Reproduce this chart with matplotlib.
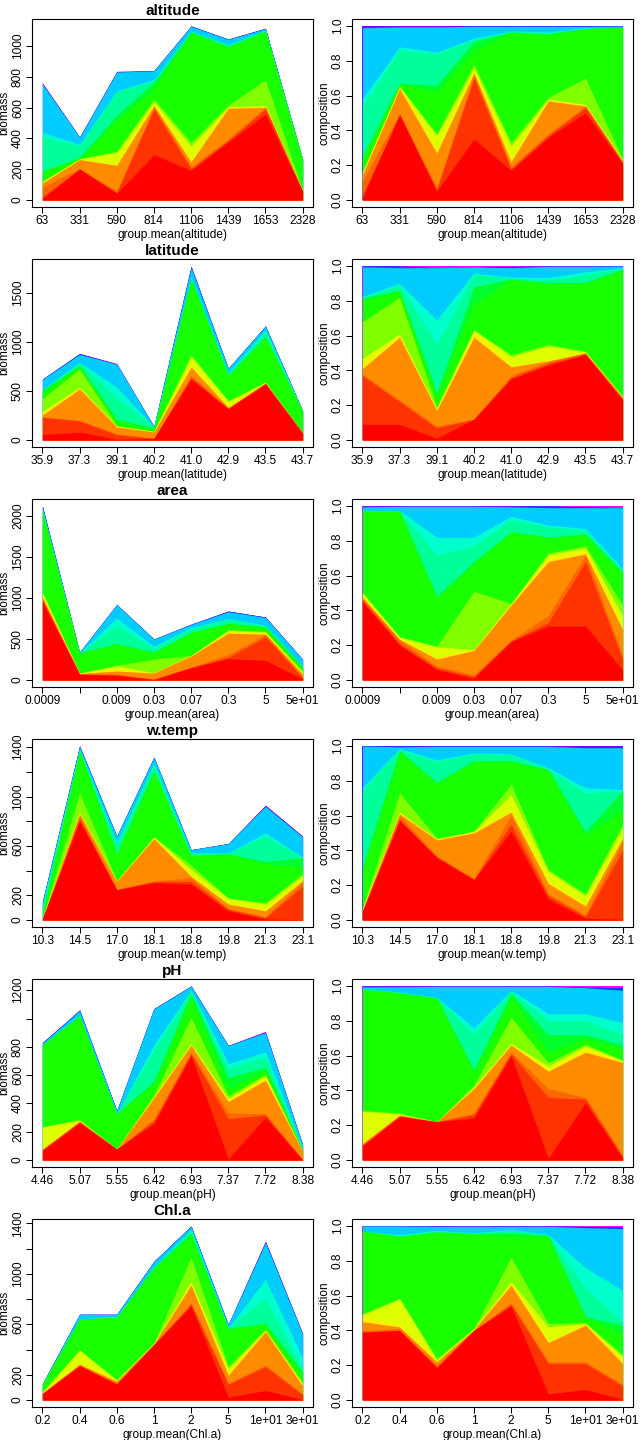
import numpy as np
import matplotlib
matplotlib.use("Agg")
import matplotlib.pyplot as plt

plt.rcParams['font.family'] = ['Liberation Sans', 'DejaVu Sans']

# colour of each stacked layer, bottom to top
layer_colors = ["#FF0000", "#FF3300", "#FF6600", "#FF8C00", "#FFEE00",
                "#DDFF00", "#80FF00", "#1AFF00", "#00FF2A", "#00FF99",
                "#00FFCC", "#00CCFF", "#0040FF", "#8000FF", "#FF00FF"]

# ---- altitude
altitude_labels = ["63", "331", "590", "814", "1106", "1439", "1653", "2328"]
altitude_total = [760, 410, 835, 840, 1130, 1045, 1115, 265]
# top edge of each layer in the composition panel
altitude_cum = [
    [.013, .49, .05, .35, .17, .36, .50, .21],
    [.03, .49, .06, .70, .18, .37, .53, .215],
    [.11, .50, .07, .72, .19, .38, .54, .22],
    [.145, .64, .27, .73, .22, .57, .54, .225],
    [.155, .645, .28, .74, .23, .575, .545, .23],
    [.16, .65, .37, .76, .31, .58, .55, .23],
    [.16, .655, .38, .78, .33, .59, .70, .235],
    [.245, .67, .62, .86, .96, .95, .98, .99],
    [.245, .67, .66, .91, .965, .955, .985, .99],
    [.54, .86, .84, .92, .97, .96, .99, .99],
    [.58, .88, .85, .93, .97, .965, .99, .99],
    [.99, .995, .995, .998, .998, .998, .998, 1.0],
    [.99, .995, .995, 1.0, 1.0, 1.0, 1.0, 1.0],
    [1.0, 1.0, 1.0, 1.0, 1.0, 1.0, 1.0, 1.0],
    [1.0, 1.0, 1.0, 1.0, 1.0, 1.0, 1.0, 1.0],
]
altitude_yticks = [0, 200, 400, 600, 800, 1000]
altitude_yticklabels = ["0", "200", "400", "600", "800", "1000"]

# ---- latitude
latitude_labels = ["35.9", "37.3", "39.1", "40.2", "41.0", "42.9", "43.5", "43.7"]
latitude_total = [620, 880, 780, 140, 1770, 730, 1160, 300]
latitude_cum = [
    [.09, .09, .01, .12, .35, .43, .49, .23],
    [.37, .22, .07, .12, .36, .44, .495, .235],
    [.38, .23, .08, .12, .37, .45, .50, .24],
    [.41, .59, .17, .59, .42, .455, .50, .245],
    [.43, .60, .175, .62, .43, .46, .505, .25],
    [.47, .61, .18, .63, .48, .54, .505, .25],
    [.68, .82, .19, .635, .49, .55, .51, .25],
    [.80, .855, .26, .78, .92, .90, .90, .98],
    [.815, .86, .27, .88, .925, .905, .905, .98],
    [.82, .89, .55, .95, .93, .92, .95, .985],
    [.825, .90, .69, .96, .935, .935, .965, .99],
    [.995, .99, .99, .995, .99, .998, .998, 1.0],
    [1.0, 1.0, .99, .995, .997, 1.0, 1.0, 1.0],
    [1.0, 1.0, .99, .995, .997, 1.0, 1.0, 1.0],
    [1.0, 1.0, 1.0, 1.0, 1.0, 1.0, 1.0, 1.0],
]
latitude_yticks = [0, 500, 1000, 1500]
latitude_yticklabels = ["0", "500", "1000", "1500"]

# ---- area
area_labels = ["0.0009", "", "0.009", "0.03", "0.07", "0.3", "5", "5e+01"]
area_total = [2120, 340, 920, 500, 680, 840, 770, 255]
area_cum = [
    [.45, .20, .06, .01, .22, .31, .31, .06],
    [.46, .21, .07, .02, .225, .33, .68, .12],
    [.47, .23, .08, .03, .23, .37, .72, .14],
    [.475, .235, .12, .17, .43, .68, .725, .29],
    [.49, .24, .13, .175, .435, .70, .74, .30],
    [.50, .245, .19, .175, .44, .72, .76, .37],
    [.505, .25, .195, .51, .44, .73, .77, .43],
    [.97, .97, .48, .67, .85, .82, .83, .61],
    [.97, .97, .48, .68, .85, .82, .84, .62],
    [.975, .97, .72, .77, .92, .88, .86, .63],
    [.975, .975, .82, .82, .94, .89, .87, .64],
    [.995, .998, .998, .998, .995, .99, .99, .99],
    [1.0, 1.0, 1.0, 1.0, 1.0, 1.0, .995, .99],
    [1.0, 1.0, 1.0, 1.0, 1.0, 1.0, .995, .99],
    [1.0, 1.0, 1.0, 1.0, 1.0, 1.0, 1.0, 1.0],
]
area_yticks = [0, 500, 1000, 1500, 2000]
area_yticklabels = ["0", "500", "1000", "1500", "2000"]

# ---- w.temp
wtemp_labels = ["10.3", "14.5", "17.0", "18.1", "18.8", "19.8", "21.3", "23.1"]
wtemp_total = [150, 1410, 680, 1320, 570, 620, 930, 680]
wtemp_cum = [
    [.05, .57, .36, .23, .51, .12, .01, .005],
    [.05, .58, .36, .235, .55, .14, .02, .40],
    [.05, .60, .37, .24, .60, .15, .03, .45],
    [.055, .61, .46, .50, .62, .21, .08, .47],
    [.06, .615, .465, .505, .63, .22, .09, .48],
    [.06, .62, .465, .51, .72, .28, .14, .53],
    [.07, .73, .47, .51, .78, .29, .15, .55],
    [.30, .96, .79, .91, .91, .86, .49, .63],
    [.30, .975, .79, .915, .915, .865, .51, .74],
    [.74, .98, .91, .955, .95, .87, .73, .745],
    [.76, .985, .92, .96, .955, .875, .76, .75],
    [1.0, .995, .998, .998, .998, .998, .99, .99],
    [1.0, 1.0, 1.0, 1.0, 1.0, 1.0, .993, .993],
    [1.0, 1.0, 1.0, 1.0, 1.0, 1.0, 1.0, 1.0],
    [1.0, 1.0, 1.0, 1.0, 1.0, 1.0, 1.0, 1.0],
]
wtemp_yticks = [0, 200, 400, 600, 800, 1000, 1200, 1400]
wtemp_yticklabels = ["0", "200", "", "600", "", "1000", "", "1400"]

# ---- pH
ph_labels = ["4.46", "5.07", "5.55", "6.42", "6.93", "7.37", "7.72", "8.38"]
ph_total = [830, 1060, 350, 1070, 1230, 810, 910, 110]
ph_cum = [
    [.08, .25, .22, .24, .60, .01, .33, .01],
    [.085, .25, .22, .26, .61, .36, .35, .02],
    [.09, .255, .22, .27, .62, .41, .36, .03],
    [.095, .26, .22, .41, .66, .51, .62, .56],
    [.10, .262, .22, .415, .665, .52, .64, .565],
    [.28, .265, .22, .42, .67, .54, .655, .57],
    [.285, .27, .22, .43, .82, .56, .665, .575],
    [.98, .96, .93, .51, .94, .62, .70, .64],
    [.98, .96, .93, .52, .955, .72, .72, .66],
    [.98, .965, .935, .72, .97, .80, .80, .72],
    [.985, .965, .935, .76, .975, .84, .84, .79],
    [.995, .995, .998, .998, .998, .998, .99, .975],
    [1.0, 1.0, 1.0, 1.0, 1.0, 1.0, .993, .99],
    [1.0, 1.0, 1.0, 1.0, 1.0, 1.0, .993, .99],
    [1.0, 1.0, 1.0, 1.0, 1.0, 1.0, 1.0, 1.0],
]
ph_yticks = [0, 200, 400, 600, 800, 1000, 1200]
ph_yticklabels = ["0", "200", "400", "600", "800", "", "1200"]

# ---- Chl.a
chla_labels = ["0.2", "0.4", "0.6", "1", "2", "5", "1e+01", "3e+01"]
chla_total = [130, 680, 680, 1100, 1380, 600, 1260, 530]
chla_cum = [
    [.39, .40, .185, .40, .54, .035, .06, .005],
    [.39, .40, .19, .40, .55, .21, .21, .08],
    [.40, .41, .20, .40, .56, .22, .22, .09],
    [.45, .42, .22, .405, .66, .33, .43, .21],
    [.48, .43, .225, .41, .67, .34, .435, .23],
    [.49, .58, .23, .41, .68, .42, .44, .25],
    [.495, .585, .24, .41, .82, .44, .445, .26],
    [.97, .94, .965, .955, .94, .94, .48, .38],
    [.97, .94, .965, .955, .96, .945, .48, .43],
    [.97, .945, .97, .96, .975, .95, .64, .45],
    [.97, .95, .975, .96, .98, .95, .76, .63],
    [1.0, 1.0, .998, .998, .998, .998, .99, .985],
    [1.0, 1.0, 1.0, 1.0, 1.0, 1.0, .997, .993],
    [1.0, 1.0, 1.0, 1.0, 1.0, 1.0, .997, .993],
    [1.0, 1.0, 1.0, 1.0, 1.0, 1.0, 1.0, 1.0],
]
chla_yticks = [0, 200, 400, 600, 800, 1000, 1200, 1400]
chla_yticklabels = ["0", "200", "", "600", "", "1000", "", "1400"]

panels = [
    ("altitude", altitude_labels, altitude_total, altitude_cum, altitude_yticks, altitude_yticklabels),
    ("latitude", latitude_labels, latitude_total, latitude_cum, latitude_yticks, latitude_yticklabels),
    ("area", area_labels, area_total, area_cum, area_yticks, area_yticklabels),
    ("w.temp", wtemp_labels, wtemp_total, wtemp_cum, wtemp_yticks, wtemp_yticklabels),
    ("pH", ph_labels, ph_total, ph_cum, ph_yticks, ph_yticklabels),
    ("Chl.a", chla_labels, chla_total, chla_cum, chla_yticks, chla_yticklabels),
]

W, H = 640, 1440
fs = 8.6


def stack(ax, x, layers):
    # each layer filled from zero up to its cumulative top, topmost first,
    # so lower layers cover the rest (no seams, empty layers stay hidden)
    tops = np.cumsum(layers, axis=0)
    for k in range(len(layers) - 1, -1, -1):
        ax.fill_between(x, 0, tops[k], color=layer_colors[k], linewidth=0)


def style(ax, xlabels, ylabel, xname):
    x = np.arange(len(xlabels))
    ax.set_xlim(-0.28, len(xlabels) - 1 + 0.28)
    ax.set_xticks(x)
    ax.set_xticklabels(xlabels, fontsize=fs)
    ax.tick_params(axis='both', length=4.3, width=0.75, pad=1.5, labelsize=fs)
    for lab in ax.get_yticklabels():
        lab.set_rotation(90)
        lab.set_va('center')
    ax.set_xlabel("group.mean(%s)" % xname, fontsize=fs, labelpad=1.5)
    ax.set_ylabel(ylabel, fontsize=fs, labelpad=1)
    for sp in ax.spines.values():
        sp.set_linewidth(0.8)


fig = plt.figure(figsize=(W / 100, H / 100), dpi=100)

for row, (name, xlabels, total, cum, yticks, yticklabels) in enumerate(panels):
    cum = np.array(cum)
    share = np.diff(np.vstack([np.zeros(cum.shape[1]), cum]), axis=0)
    share = share / share.sum(axis=0)
    biomass = share * np.array(total)
    x = np.arange(len(xlabels))
    bottom = 1 - (row * 240 + 207) / H
    height = 188 / H

    # biomass panel
    axl = fig.add_axes([32 / W, bottom, 281 / W, height])
    stack(axl, x, biomass)
    ymax = max(total)
    axl.set_ylim(-0.04 * ymax, 1.04 * ymax)
    axl.set_yticks(yticks)
    axl.set_yticklabels(yticklabels)
    style(axl, xlabels, "biomass", name)
    axl.set_title(name, fontsize=11, fontweight='bold', pad=3)

    # composition panel
    axr = fig.add_axes([352 / W, bottom, 281 / W, height])
    stack(axr, x, share)
    axr.set_ylim(-0.04, 1.04)
    axr.set_yticks([0, 0.2, 0.4, 0.6, 0.8, 1.0])
    axr.set_yticklabels(["0.0", "0.2", "0.4", "0.6", "0.8", "1.0"])
    style(axr, xlabels, "composition", name)

fig.savefig("out.png", dpi=100)
